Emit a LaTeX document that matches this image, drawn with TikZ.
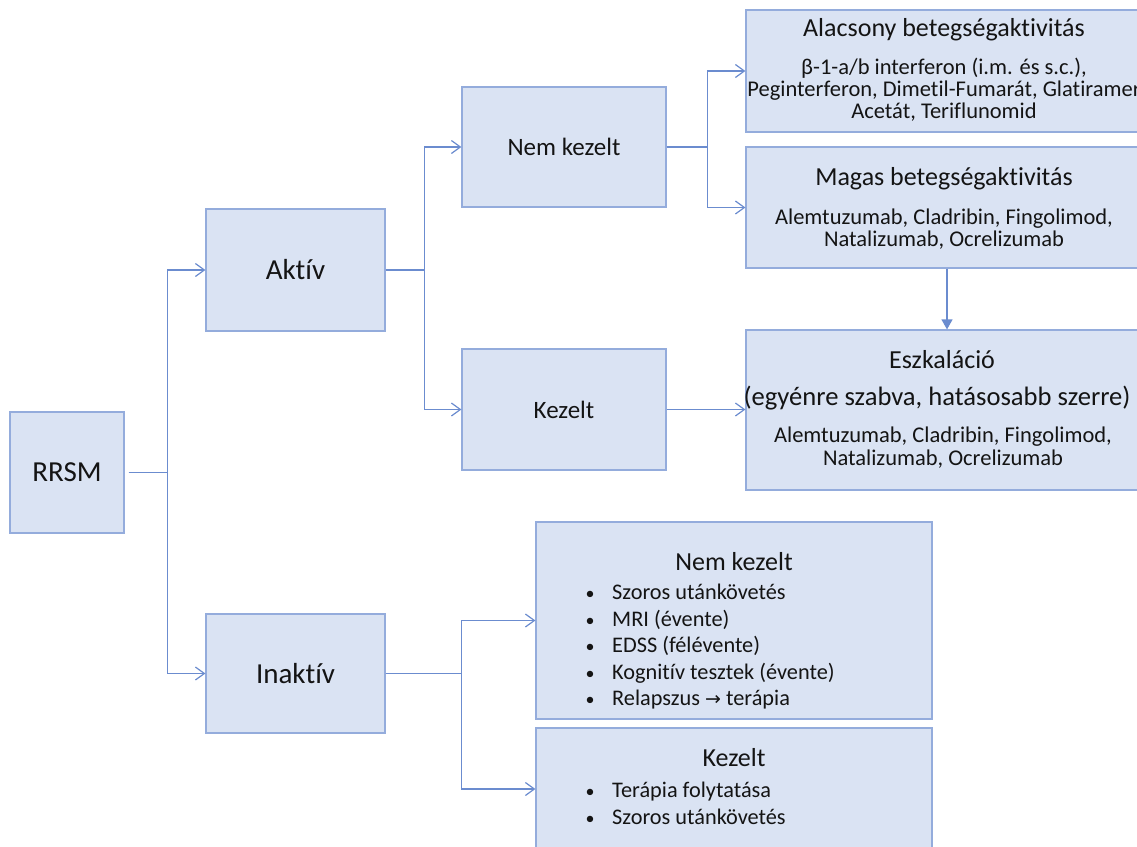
\documentclass[tikz,border=0pt]{standalone}
\usepackage{fontspec}
\setmainfont{Carlito}[Ligatures={NoCommon}]
\newfontfamily\symfont{DejaVu Sans}
\usetikzlibrary{arrows.meta}
\definecolor{boxfill}{HTML}{DAE3F3}
\definecolor{boxline}{HTML}{94ACDC}
\definecolor{connc}{HTML}{6B8CCF}
\definecolor{txt}{HTML}{141414}
\begin{document}
\begin{tikzpicture}[x=1pt,y=-1pt,
  box/.style={draw=boxline, fill=boxfill, line width=1.2pt, inner sep=0pt, text=txt, align=center},
  bigtxt/.style={font=\fontsize{29}{33}\selectfont},
  midtxt/.style={font=\fontsize{25}{29}\selectfont},
  headtxt/.style={font=\fontsize{26}{30}\selectfont, text=txt, inner sep=0pt, anchor=base},
  bodytxt/.style={font=\fontsize{22.5}{26}\selectfont, text=txt, inner sep=0pt, anchor=base},
  itemtxt/.style={font=\fontsize{22.3}{26}\selectfont, text=txt, inner sep=0pt, anchor=base west},
  bultxt/.style={font=\fontsize{18}{22}\selectfont, text=txt, inner sep=0pt, anchor=base},
  conn/.style={draw=connc, line width=1.2pt, -{Straight Barb[length=9pt,width=13pt,line width=1.2pt]}},
  connf/.style={draw=connc, line width=1.2pt, -{Triangle[length=10pt,width=11pt]}}]
\useasboundingbox (0,0) rectangle (1137,846);
\clip (0,0) rectangle (1137,846);
\fill[white] (0,0) rectangle (1137,846);

% level 0/1/2 boxes
\node[box, bigtxt, minimum width=114pt, minimum height=121pt] (rrsm) at (67,472.5) {RRSM};
\node[box, bigtxt, minimum width=179pt, minimum height=122pt] (aktiv) at (295.5,270) {Aktív};
\node[box, bigtxt, minimum width=179pt, minimum height=119pt] (inaktiv) at (295.5,673.5) {Inaktív};
\node[box, midtxt, minimum width=204pt, minimum height=120pt] (nemk) at (564,147) {Nem kezelt};
\node[box, midtxt, minimum width=204pt, minimum height=121pt] (kez) at (564,409.5) {Kezelt};

% right boxes
\node[box, minimum width=402pt, minimum height=122pt] (alac) at (947,71) {};
\node[box, minimum width=402pt, minimum height=121pt] (magas) at (947,207.5) {};
\node[box, minimum width=402pt, minimum height=160pt] (eszk) at (947,410) {};
\node[box, minimum width=396pt, minimum height=197pt] (inem) at (734,620.5) {};
\node[box, minimum width=396pt, minimum height=122pt] (ikez) at (734,789) {};

% texts of right boxes
\node[headtxt] (alacH) at (944,36) {Alacsony betegségaktivitás};
\node[bodytxt] (alac1) at (944,74) {β-1-a/b interferon (i.m. és s.c.),};
\node[bodytxt] (alac2) at (944,96.5) {Peginterferon, Dimetil-Fumarát, Glatiramer};
\node[bodytxt] (alac3) at (944,118.5) {Acetát, Teriflunomid};

\node[headtxt] (magasH) at (944,185) {Magas betegségaktivitás};
\node[bodytxt] (magas1) at (944,224) {Alemtuzumab, Cladribin, Fingolimod,};
\node[bodytxt] (magas2) at (944,246.5) {Natalizumab, Ocrelizumab};

\node[headtxt, font=\fontsize{26}{30}\selectfont] (eszkH) at (942,368) {Eszkaláció};
\node[headtxt, font=\fontsize{26.6}{30}\selectfont] (eszk1) at (937,405) {(egyénre szabva, hatásosabb szerre)};
\node[bodytxt] (eszk2) at (943,442.5) {Alemtuzumab, Cladribin, Fingolimod,};
\node[bodytxt] (eszk3) at (943,465.5) {Natalizumab, Ocrelizumab};

\node[headtxt] (inemH) at (734,570) {Nem kezelt};
\foreach \y/\t [count=\i] in {599/Szoros utánkövetés, 626.5/MRI (évente), 652.5/EDSS (félévente), 679/Kognitív tesztek (évente), 705.5/Relapszus {\symfont\fontsize{19}{22}\selectfont →} terápia}{
  \node[bultxt] (inemB\i) at (590,\y) {•};
  \node[itemtxt] (inemT\i) at (612,\y) {\t};
}
\node[headtxt] (ikezH) at (734,766) {Kezelt};
\foreach \y/\t [count=\i] in {797/Terápia folytatása, 824/Szoros utánkövetés}{
  \node[bultxt] (ikezB\i) at (590,\y) {•};
  \node[itemtxt] (ikezT\i) at (612,\y) {\t};
}

% connectors
\draw[conn, shorten <=4pt] (rrsm.east) -- ++(43,0) |- (aktiv.west);
\draw[conn, shorten <=4pt] (rrsm.east) -- ++(43,0) |- (inaktiv.west);
\draw[conn] (aktiv.east) -- ++(39,0) |- (nemk.west);
\draw[conn] (aktiv.east) -- ++(39,0) |- (kez.west);
\draw[conn] (nemk.east) -- ++(41,0) |- (alac.west);
\draw[conn] (nemk.east) -- ++(41,0) |- (magas.west);
\draw[conn] (kez.east) -- (kez.east -| eszk.west);
\draw[connf] (magas.south) -- (eszk.north);
\draw[conn] (inaktiv.east) -- ++(76,0) |- (inem.west);
\draw[conn] (inaktiv.east) -- ++(76,0) |- (ikez.west);
\end{tikzpicture}
\end{document}
